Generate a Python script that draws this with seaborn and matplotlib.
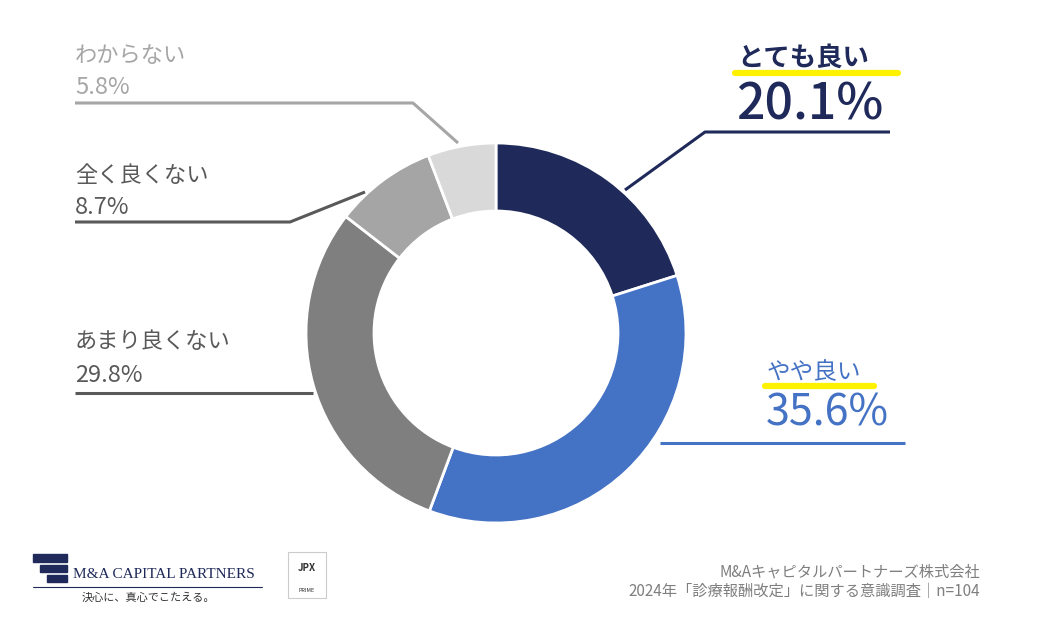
import matplotlib
matplotlib.use('Agg')
import matplotlib.pyplot as plt
import seaborn as sns

sns.set_theme(style='white')
plt.rcParams['font.family'] = 'Noto Sans CJK JP'

# data
labels = ['とても良い', 'やや良い', 'あまり良くない', '全く良くない', 'わからない']
values = [20.1, 35.6, 29.8, 8.7, 5.8]
colors = ['#1f2a5a', '#4472c4', '#7f7f7f', '#a5a5a5', '#d9d9d9']
source = ['M&Aキャピタルパートナーズ株式会社', '2024年「診療報酬改定」に関する意識調査｜n=104']

W, H = 1040, 619
fig = plt.figure(figsize=(W / 100, H / 100), dpi=100)
ax = fig.add_axes([0, 0, 1, 1])

def Y(y):
    return H - y

ax.pie(values, colors=colors, startangle=90, counterclock=False,
       center=(496, Y(333)), radius=190,
       wedgeprops=dict(width=68, edgecolor='white', linewidth=2))
ax.set_xlim(0, W)
ax.set_ylim(0, H)
ax.set_aspect('equal')
ax.axis('off')

def line(xs, ys, c):
    ax.plot(xs, [Y(v) for v in ys], color=c, lw=2.2, solid_capstyle='butt')

# とても良い
line([625, 705, 890], [190, 132, 132], '#1f2a5a')
ax.plot([735, 898], [Y(73), Y(73)], color='#fff200', lw=4.5, zorder=1)
ax.text(737, Y(58), labels[0], fontsize=19, color='#1f2a5a', fontweight='bold', va='center', zorder=2)
ax.text(736, Y(106), f'{values[0]}%', fontsize=36, color='#1f2a5a', fontweight='medium', va='center')

# やや良い
line([660, 905], [443, 443], '#4472c4')
ax.plot([765, 874], [Y(386), Y(386)], color='#fff200', lw=4.5, zorder=1)
ax.text(767, Y(373), labels[1], fontsize=17, color='#4472c4', va='center', zorder=2)
ax.text(766, Y(414), f'{values[1]}%', fontsize=31, color='#4472c4', va='center')

# left side labels
left = [(2, 342, 375, [75, 313], [393, 393], '#595959'),
        (3, 175, 208, [75, 290, 365], [222, 222, 192], '#595959'),
        (4, 55, 88, [75, 413, 458], [103, 103, 143], '#a6a6a6')]
for i, ty, vy, lx, ly, c in left:
    line(lx, ly, c)
    ax.text(75, Y(ty), labels[i], fontsize=16, color=c, va='center')
    ax.text(75, Y(vy), f'{values[i]}%', fontsize=17, color=c, va='center')

# footer
ax.text(980, Y(572), source[0], fontsize=11, color='#7f7f7f', ha='right', va='center')
ax.text(980, Y(592), source[1], fontsize=11, color='#7f7f7f', ha='right', va='center')

# logo
ax.add_patch(plt.Rectangle((33, Y(562)), 34, 8, color='#1f2a5a'))
ax.add_patch(plt.Rectangle((40, Y(572)), 27, 7, color='#1f2a5a'))
ax.add_patch(plt.Rectangle((47, Y(582)), 20, 7, color='#1f2a5a'))
ax.text(73, Y(575), 'M&A CAPITAL PARTNERS', fontsize=11, family='Liberation Serif',
        color='#1f2a5a', va='center')
ax.plot([33, 262], [Y(587), Y(587)], color='#1f2a5a', lw=0.8)
ax.text(148, Y(598), '決心に、真心でこたえる。', fontsize=8, color='#333333', ha='center', va='center')
ax.add_patch(plt.Rectangle((288, Y(598)), 38, 46, fill=False, ec='#cccccc', lw=0.8))
ax.text(307, Y(568), 'JPX', fontsize=7, color='#333333', ha='center', va='center', fontweight='bold')
ax.text(307, Y(590), 'PRIME', fontsize=4, color='#333333', ha='center', va='center')

fig.savefig('out.png', dpi=100)
